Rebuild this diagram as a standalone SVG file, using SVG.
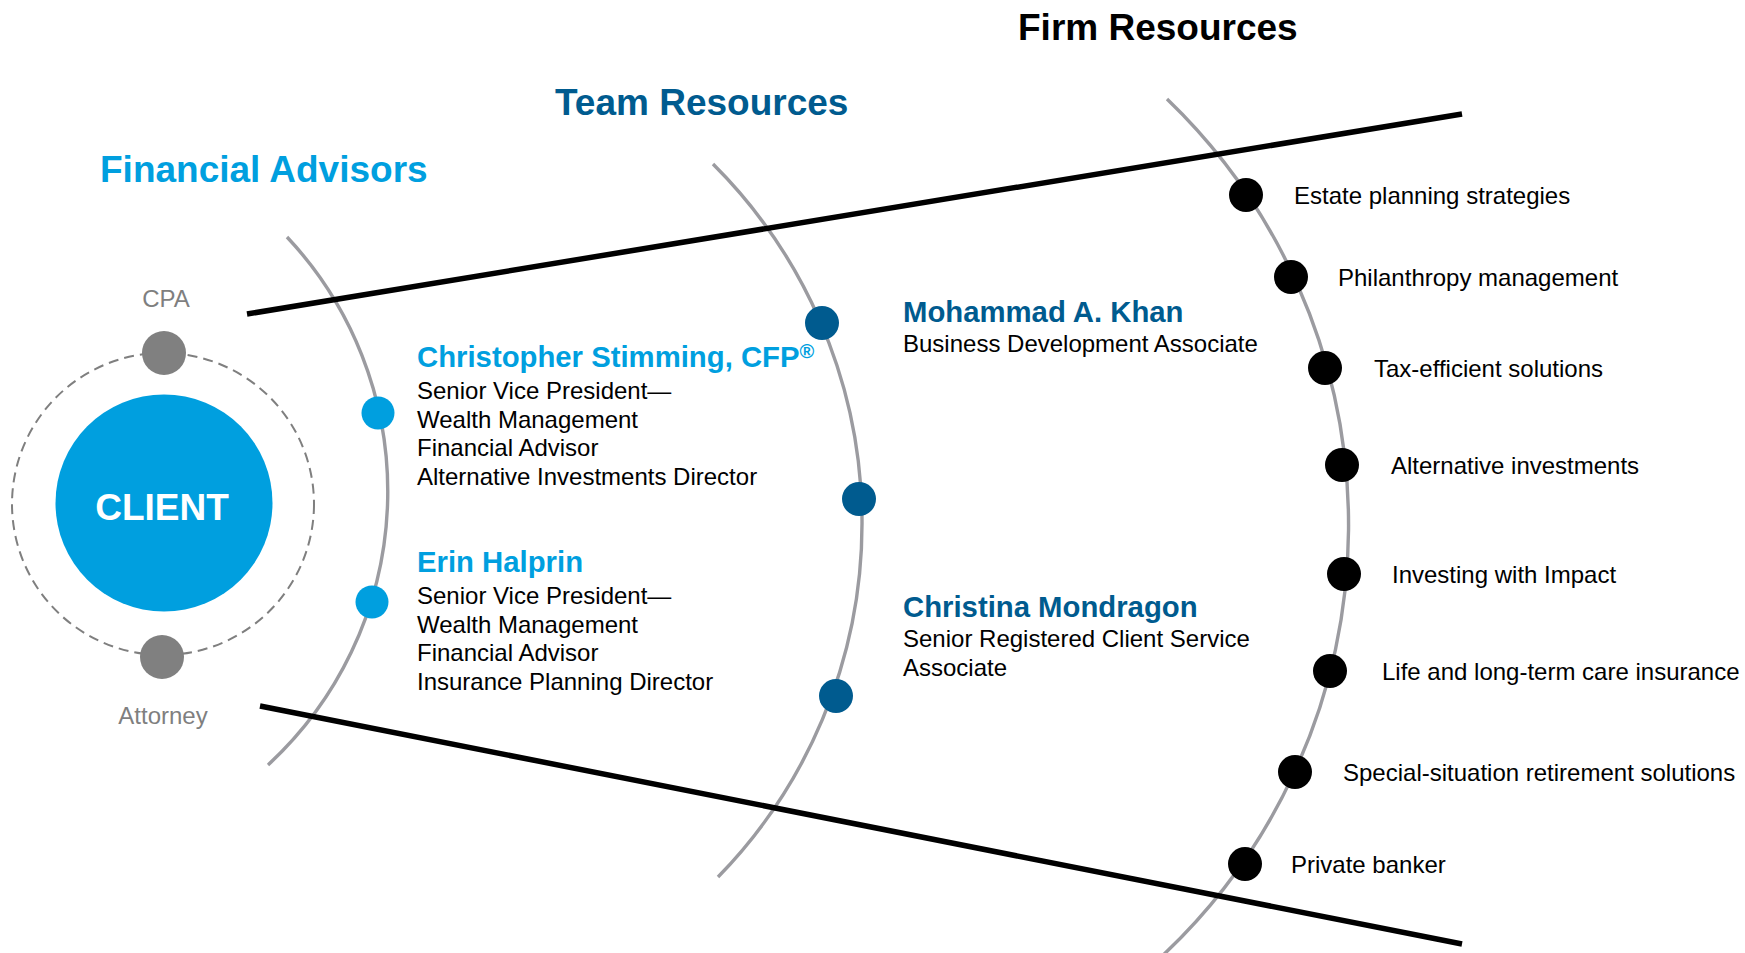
<svg xmlns="http://www.w3.org/2000/svg" width="1745" height="953" viewBox="0 0 1745 953">
  <style>
    .title { font-family: "Liberation Sans", Arial, sans-serif; font-weight: bold; font-size: 37px; }
    .name { font-family: "Liberation Sans", Arial, sans-serif; font-weight: bold; font-size: 29.3px; }
    .body { font-family: "Liberation Sans", Arial, sans-serif; font-size: 24px; fill: #000; }
    .side { font-family: "Liberation Sans", Arial, sans-serif; font-size: 24px; fill: #7f7f7f; }
    .arc { fill: none; stroke: #9b9ba0; stroke-width: 3.4; }
    .rule { fill: none; stroke: #000; stroke-width: 5.5; }
    .fa { fill: #009fdf; }
    .team { fill: #005b8f; }
    .firm { fill: #000; }
  </style>

  <!-- headings -->
  <g id="headings">
    <text class="title" x="100" y="182" fill="#009fdf">Financial Advisors</text>
    <text class="title" x="555" y="115" fill="#005b8f">Team Resources</text>
    <text class="title" x="1018" y="40" fill="#000">Firm Resources</text>
  </g>

  <!-- arcs and dividing rules -->
  <g id="connectors">
    <path class="arc" d="M287,237 A372,372 0 0,1 268,765"/>
    <path class="arc" d="M713,164 A507,507 0 0,1 718,877"/>
    <path class="arc" d="M1167,99 A591,591 0 0,1 1160,958"/>
    <line class="rule" x1="247" y1="314" x2="1462" y2="114"/>
    <line class="rule" x1="260" y1="706" x2="1462" y2="944"/>
  </g>

  <!-- client hub -->
  <g id="client">
    <circle cx="163" cy="504" r="151" fill="none" stroke="#7f7f7f" stroke-width="2" stroke-dasharray="10 6"/>
    <circle cx="164" cy="503" r="108.5" fill="#009fdf"/>
    <text x="162" y="520" text-anchor="middle" font-family="Liberation Sans, Arial, sans-serif" font-weight="bold" font-size="37" fill="#fff">CLIENT</text>
  </g>
  <g id="cpa">
    <circle cx="164" cy="353" r="22" fill="#808080"/>
    <text class="side" x="166" y="307" text-anchor="middle">CPA</text>
  </g>
  <g id="attorney">
    <circle cx="162" cy="657" r="22" fill="#808080"/>
    <text class="side" x="163" y="724" text-anchor="middle">Attorney</text>
  </g>

  <!-- financial advisors -->
  <g id="advisor-stimming">
    <circle class="fa" cx="378" cy="413" r="16.5"/>
    <text class="name fa" x="417" y="367">Christopher Stimming, CFP<tspan font-size="20" dy="-9">®</tspan></text>
    <text class="body" x="417" y="399">Senior Vice President—</text>
    <text class="body" x="417" y="428">Wealth Management</text>
    <text class="body" x="417" y="456">Financial Advisor</text>
    <text class="body" x="417" y="485">Alternative Investments Director</text>
  </g>
  <g id="advisor-halprin">
    <circle class="fa" cx="372" cy="602" r="16.5"/>
    <text class="name fa" x="417" y="572">Erin Halprin</text>
    <text class="body" x="417" y="604">Senior Vice President—</text>
    <text class="body" x="417" y="633">Wealth Management</text>
    <text class="body" x="417" y="661">Financial Advisor</text>
    <text class="body" x="417" y="690">Insurance Planning Director</text>
  </g>

  <!-- team resources -->
  <g id="team-khan">
    <circle class="team" cx="822" cy="323" r="17"/>
    <text class="name team" x="903" y="322">Mohammad A. Khan</text>
    <text class="body" x="903" y="352">Business Development Associate</text>
  </g>
  <g id="team-dot">
    <circle class="team" cx="859" cy="499" r="17"/>
  </g>
  <g id="team-mondragon">
    <circle class="team" cx="836" cy="696" r="17"/>
    <text class="name team" x="903" y="617">Christina Mondragon</text>
    <text class="body" x="903" y="647">Senior Registered Client Service</text>
    <text class="body" x="903" y="676">Associate</text>
  </g>

  <!-- firm resources -->
  <g id="firm-estate">
    <circle class="firm" cx="1246" cy="195" r="17"/>
    <text class="body" x="1294" y="204">Estate planning strategies</text>
  </g>
  <g id="firm-philanthropy">
    <circle class="firm" cx="1291" cy="277" r="17"/>
    <text class="body" x="1338" y="286">Philanthropy management</text>
  </g>
  <g id="firm-tax">
    <circle class="firm" cx="1325" cy="368" r="17"/>
    <text class="body" x="1374" y="377">Tax-efficient solutions</text>
  </g>
  <g id="firm-alternatives">
    <circle class="firm" cx="1342" cy="465" r="17"/>
    <text class="body" x="1391" y="474">Alternative investments</text>
  </g>
  <g id="firm-impact">
    <circle class="firm" cx="1344" cy="574" r="17"/>
    <text class="body" x="1392" y="583">Investing with Impact</text>
  </g>
  <g id="firm-insurance">
    <circle class="firm" cx="1330" cy="671" r="17"/>
    <text class="body" x="1382" y="680">Life and long-term care insurance</text>
  </g>
  <g id="firm-retirement">
    <circle class="firm" cx="1295" cy="772" r="17"/>
    <text class="body" x="1343" y="781">Special-situation retirement solutions</text>
  </g>
  <g id="firm-banker">
    <circle class="firm" cx="1245" cy="864" r="17"/>
    <text class="body" x="1291" y="873">Private banker</text>
  </g>
</svg>
